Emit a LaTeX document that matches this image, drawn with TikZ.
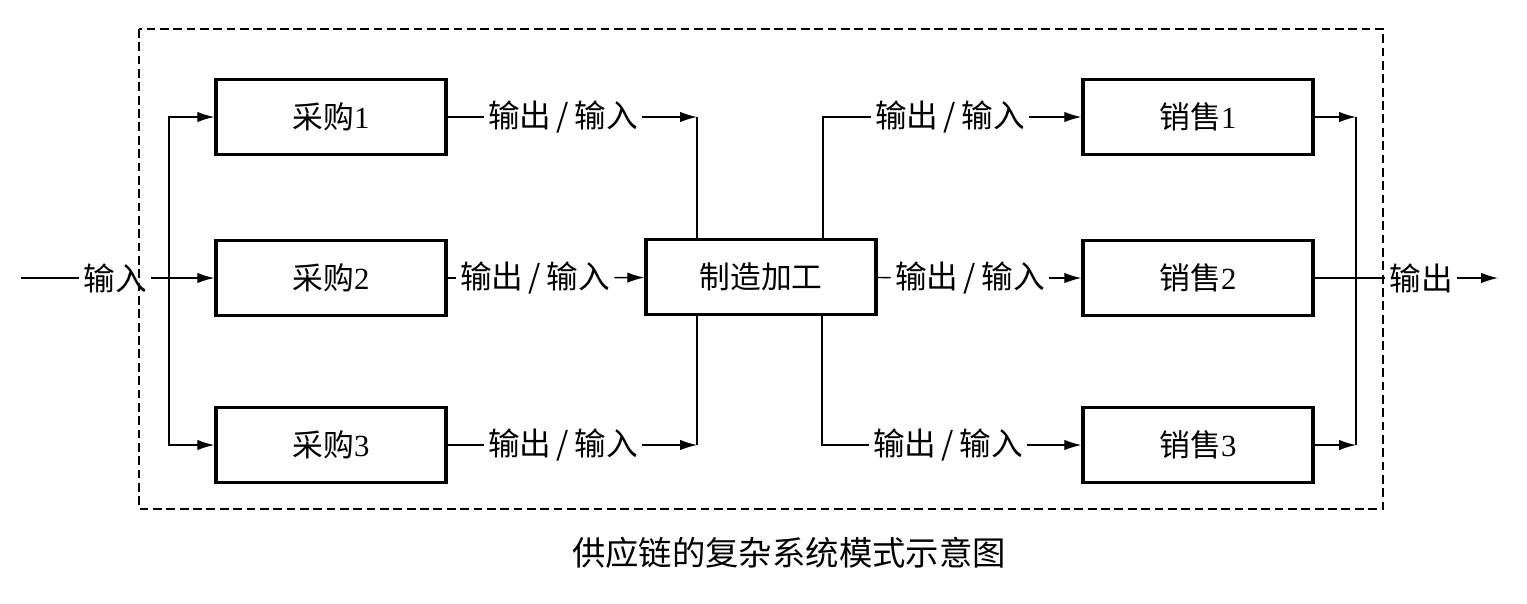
\documentclass[tikz,border=0pt]{standalone}
\usepackage{fontspec}
\setmainfont{Liberation Serif}
\newfontfamily\cjk{Noto Sans CJK SC}
\usetikzlibrary{arrows.meta}

\begin{document}
\begin{tikzpicture}[x=0.02cm,y=-0.02cm,
  blk/.style={draw,line width=2pt,minimum width=4.6cm,minimum height=1.5cm,font=\fontsize{17.5}{17.5}\selectfont},
  lbl/.style={inner xsep=2.5pt,inner ysep=0pt,font=\cjk\fontsize{18}{18}\selectfont},
  ln/.style={line width=0.75pt},
  arr/.style={line width=0.75pt,-{Latex[length=3.4mm,width=2.1mm]}}]
\useasboundingbox (0,0) rectangle (1527,603);
\draw[line width=0.8pt,dash pattern=on 5pt off 2.6pt] (139,29) rectangle (1383,509);
\node[blk] (cg1) at (331,117) {{\cjk 采购}1};
\node[blk] (cg2) at (331,278) {{\cjk 采购}2};
\node[blk] (cg3) at (331,445) {{\cjk 采购}3};
\node[blk] (zz) at (761,277) {\cjk 制造加工};
\node[blk] (xs1) at (1198,117) {{\cjk 销售}1};
\node[blk] (xs2) at (1198,278) {{\cjk 销售}2};
\node[blk] (xs3) at (1198,445) {{\cjk 销售}3};
\coordinate (src) at (21,278);
\node[lbl] (in) at (115,278) {输入};
\coordinate (fork) at (169,278);
\draw[ln] (src) -- (in);
\draw[arr] (in) -- (cg2);
\draw[arr] (fork) |- (cg1);
\draw[arr] (fork) |- (cg3);
\node[lbl] (a1) at (563,117) {输出\,/\,输入};
\node[lbl] (a2) at (535,278) {输出\,/\,输入};
\node[lbl] (a3) at (563,445) {输出\,/\,输入};
\coordinate (j1) at (697,117);
\coordinate (j3) at (697,445);
\draw[ln] (cg1) -- (a1);
\draw[arr] (a1) -- (j1);
\draw[ln] (j1) -- (j1 |- zz.north);
\draw[ln] (cg2) -- (a2);
\draw[arr] (a2) -- (zz);
\draw[ln] (cg3) -- (a3);
\draw[arr] (a3) -- (j3);
\draw[ln] (j3) -- (j3 |- zz.south);
\node[lbl] (b1) at (950,117) {输出\,/\,输入};
\node[lbl] (b2) at (970,278) {输出\,/\,输入};
\node[lbl] (b3) at (948,445) {输出\,/\,输入};
\coordinate (k1) at (823,117);
\coordinate (k3) at (822,445);
\draw[ln] (k1 |- zz.north) -- (k1) -- (b1);
\draw[arr] (b1) -- (xs1);
\draw[ln] (zz) -- (b2);
\draw[arr] (b2) -- (xs2);
\draw[ln] (k3 |- zz.south) -- (k3) -- (b3);
\draw[arr] (b3) -- (xs3);
\coordinate (col1) at (1356,117);
\coordinate (col3) at (1356,445);
\draw[arr] (xs1) -- (col1);
\draw[arr] (xs3) -- (col3);
\draw[ln] (col1) -- (col3);
\node[lbl] (out) at (1421,278) {输出};
\coordinate (dst) at (1498,278);
\draw[ln] (xs2) -- (out);
\draw[arr] (out) -- (dst);
\node[font=\cjk\fontsize{19}{19}\selectfont] (cap) at (789,553) {供应链的复杂系统模式示意图};
\end{tikzpicture}
\end{document}
